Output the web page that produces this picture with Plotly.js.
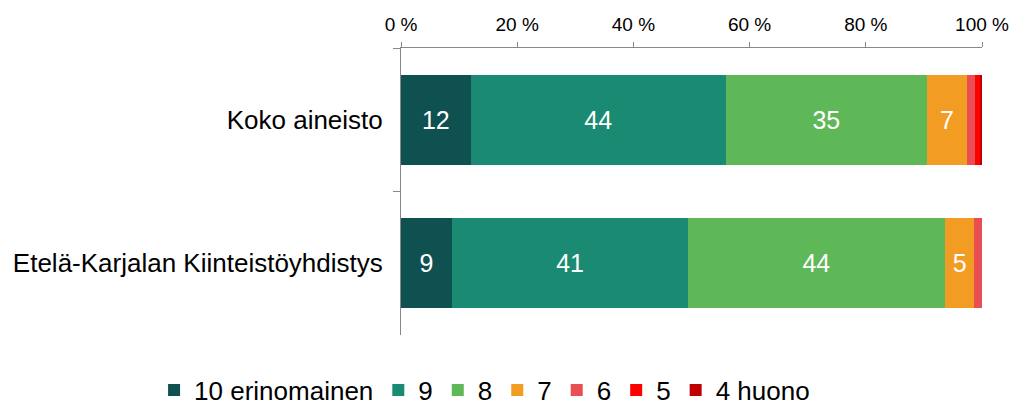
<!DOCTYPE html>
<html><head><meta charset="utf-8">
<script src="https://cdn.plot.ly/plotly-3.0.1.min.js"></script>
<style>body{margin:0;background:#fff}#chart{width:1013px;height:406px}</style>
</head><body><div id="chart"></div>
<script>
const categories = ["Koko aineisto", "Etelä-Karjalan Kiinteistöyhdistys"];
const seriesNames = ["10 erinomainen", "9", "8", "7", "6", "5", "4 huono"];
const seriesColors = ["#0f5050", "#1b8a72", "#5fb858", "#f39c24", "#e94e53", "#ff0000", "#c00000"];
const v10 = [12.0, 8.8];
const v9 = [43.9, 40.6];
const v8 = [34.6, 44.2];
const v7 = [6.9, 5.1];
const v6 = [1.4, 1.3];
const v5 = [0.8, 0];
const v4 = [0.4, 0];
const tickVals = [0, 20, 40, 60, 80, 100];
const tickText = ["0 %", "20 %", "40 %", "60 %", "80 %", "100 %"];

const allSeries = [v10, v9, v8, v7, v6, v5, v4];
const traces = allSeries.map((vals, i) => ({
  type: 'bar',
  orientation: 'h',
  name: seriesNames[i],
  y: categories,
  x: vals,
  text: vals.map(v => v >= 3 ? String(Math.round(v)) : ''),
  textposition: 'inside',
  insidetextanchor: 'middle',
  textangle: 0,
  textfont: {color: '#ffffff', size: 25, family: 'Liberation Sans, Arial, sans-serif'},
  marker: {color: seriesColors[i], line: {width: 0}},
  hoverinfo: 'none',
  cliponaxis: false
}));

const layout = {
  width: 1013, height: 406,
  margin: {l: 401, r: 31, t: 48, b: 71, autoexpand: false},
  barmode: 'stack',
  bargap: 0.375,
  paper_bgcolor: '#ffffff',
  plot_bgcolor: '#ffffff',
  font: {family: 'Liberation Sans, Arial, sans-serif', color: '#000000', size: 19},
  showlegend: true,
  legend: {
    orientation: 'h',
    xref: 'paper', yref: 'paper',
    x: -0.425, xanchor: 'left',
    y: -0.11, yanchor: 'top',
    font: {size: 26, color: '#000000'},
    traceorder: 'normal',
    itemwidth: 30,
    tracegroupgap: 0,
    bgcolor: 'rgba(0,0,0,0)'
  },
  xaxis: {
    side: 'top',
    range: [0, 100],
    tickvals: tickVals,
    ticktext: tickText,
    ticks: 'outside',
    ticklen: 5,
    tickcolor: '#888888',
    showline: true,
    linecolor: '#888888',
    linewidth: 1,
    showgrid: false,
    zeroline: false,
    ticklabelstandoff: 3,
    tickfont: {size: 19, color: '#000000'},
    fixedrange: true
  },
  yaxis: {
    type: 'category',
    autorange: 'reversed',
    tickson: 'boundaries',
    ticks: 'outside',
    ticklen: 7,
    tickcolor: '#888888',
    showline: true,
    linecolor: '#888888',
    linewidth: 1,
    showgrid: false,
    zeroline: false,
    ticklabelstandoff: 12,
    tickfont: {size: 26, color: '#000000'},
    fixedrange: true
  }
};

Plotly.newPlot('chart', traces, layout, {displayModeBar: false, staticPlot: true});
</script>
</body></html>
